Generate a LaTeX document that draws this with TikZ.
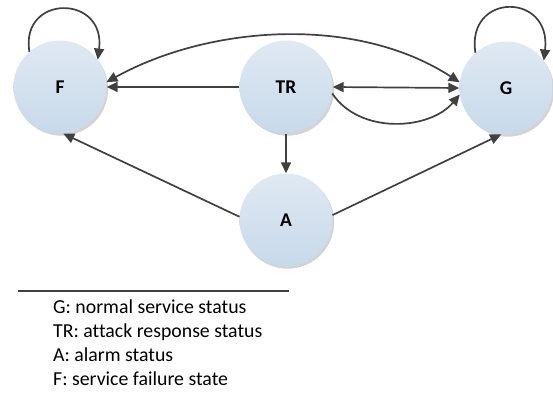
\documentclass[tikz,border=0pt]{standalone}
\usepackage{fontspec}
\setmainfont[Ligatures=NoCommon]{Carlito}
\usetikzlibrary{arrows.meta,shadows}
\definecolor{edgegray}{HTML}{404040}
\definecolor{ballTop}{HTML}{E0E9F3}
\definecolor{ballBot}{HTML}{C7D9EA}
\tikzset{
  tip/.tip={Triangle[length=11pt,width=10pt]},
  state/.style={circle, minimum size=93pt, inner sep=0pt, draw=none,
    top color=ballTop, bottom color=ballBot,
    drop shadow={shadow xshift=1.6pt, shadow yshift=-2.2pt, opacity=0.35, fill=gray},
    font=\fontsize{19.5}{23}\selectfont\bfseries, text=black},
  link/.style={draw=edgegray, line width=1.7pt, -tip},
  twoway/.style={link, tip-tip},
  legendtext/.style={anchor=base west, inner sep=0pt,
    font=\fontsize{19.8}{23}\selectfont, text=black}
}
\begin{document}
\begin{tikzpicture}[x=1pt,y=-1pt]
\useasboundingbox (0,0) rectangle (553,398);

% states
\node[state] (F)  at (60,87)  {F};
\node[state] (TR) at (286,87) {TR};
\node[state] (G)  at (506,88) {G};
\node[state] (A)  at (286,220) {A};

% self loops
\draw[link] (F.131) .. controls (20,-6) and (106,-6) .. (F.36);
\draw[link] (G.131) .. controls (466,-8) and (552,-8) .. (G.36);

% transitions
\draw[link] (TR.west) -- (F.east);
\draw[twoway] (F.6) .. controls (210,25) and (356,15) .. (G.173);
\draw[twoway] (TR.east) -- (G.west);
\draw[link] (TR.-8) .. controls (360,135) and (430,130) .. (G.188);
\draw[link] (TR.south) -- (A.north);
\draw[link] (A.176) -- (F.-86);
\draw[link] (A.6) -- (G.-96);

% legend
\draw[edgegray, line width=1.2pt] (18,291) -- (289,291);
\node[legendtext] (lg) at (53,313) {G: normal service status};
\node[legendtext] (ltr) at (53,337) {TR: attack response status};
\node[legendtext] (la) at (53,361) {A: alarm status};
\node[legendtext] (lf) at (53,385) {F: service failure state};
\end{tikzpicture}
\end{document}
